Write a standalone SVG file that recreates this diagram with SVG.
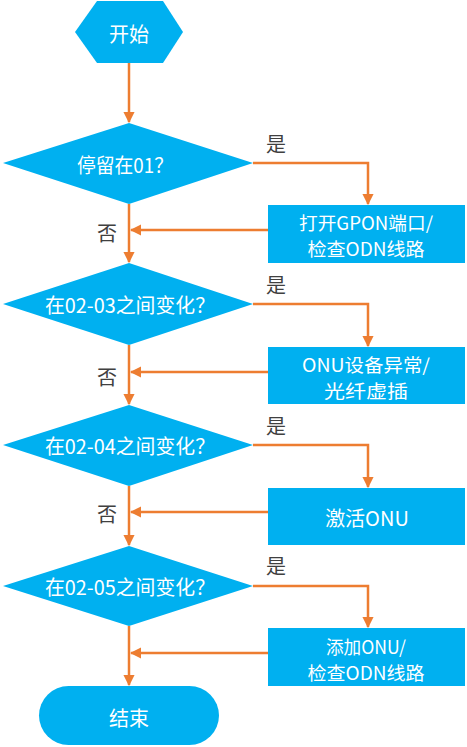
<svg xmlns="http://www.w3.org/2000/svg" width="467" height="747" viewBox="0 0 467 747">
<defs>
<style>
.n{fill:#00B0F0;}
.t{fill:#fff;font-family:"Noto Sans CJK SC","Liberation Sans",sans-serif;font-size:20px;text-anchor:middle;dominant-baseline:central;}
.r{font-size:18px;}
.l{fill:#404040;font-family:"Noto Sans CJK SC","Liberation Sans",sans-serif;font-size:20px;text-anchor:middle;dominant-baseline:central;}
.c{fill:none;stroke:#ED7D31;stroke-width:2.5;marker-end:url(#a);}
</style>
<marker id="a" viewBox="0 0 10 10" refX="9" refY="5" markerWidth="4.5" markerHeight="4.5" orient="auto" markerUnits="strokeWidth">
<path d="M0,0 L10,5 L0,10 z" fill="#ED7D31"/>
</marker>
</defs>
<g id="connectors">
<path class="c" d="M129,63 V122"/>
<path class="c" d="M253,163 H368 V204"/>
<path class="c" d="M268,230 H131"/>
<path class="c" d="M129,204 V262"/>
<path class="c" d="M253,304 H368 V346"/>
<path class="c" d="M268,372 H131"/>
<path class="c" d="M129,345 V404"/>
<path class="c" d="M253,445 H368 V487"/>
<path class="c" d="M268,512 H131"/>
<path class="c" d="M129,486 V545"/>
<path class="c" d="M253,586 H368 V627"/>
<path class="c" d="M268,653 H131"/>
<path class="c" d="M129,626 V685"/>
</g>
<g id="labels">
<text class="l" x="276" y="143">是</text>
<text class="l" x="107" y="232">否</text>
<text class="l" x="276" y="284">是</text>
<text class="l" x="107" y="376">否</text>
<text class="l" x="276" y="425">是</text>
<text class="l" x="107" y="513">否</text>
<text class="l" x="276" y="565">是</text>
</g>
<g id="start">
<polygon class="n" points="97,1 163,1 183,32 163,63 97,63 75,32"/>
<text class="t" x="129" y="33">开始</text>
</g>
<g id="d1">
<polygon class="n" points="129,123 253,163 129,204 3,163"/>
<text class="t" x="125" y="164" textLength="96" lengthAdjust="spacingAndGlyphs">停留在01？</text>
</g>
<g id="p1">
<rect class="n" x="268" y="205" width="197" height="58"/>
<text class="t r" x="366" y="222" textLength="134" lengthAdjust="spacingAndGlyphs">打开GPON端口/</text>
<text class="t r" x="366" y="248" textLength="117" lengthAdjust="spacingAndGlyphs">检查ODN线路</text>
</g>
<g id="d2">
<polygon class="n" points="129,263 253,304 129,345 3,304"/>
<text class="t" x="130" y="304" textLength="170" lengthAdjust="spacingAndGlyphs">在02-03之间变化？</text>
</g>
<g id="p2">
<rect class="n" x="268" y="347" width="197" height="57"/>
<text class="t r" x="366" y="364" textLength="128" lengthAdjust="spacingAndGlyphs">ONU设备异常/</text>
<text class="t r" x="366" y="390" textLength="84" lengthAdjust="spacingAndGlyphs">光纤虚插</text>
</g>
<g id="d3">
<polygon class="n" points="129,405 253,445 129,486 3,445"/>
<text class="t" x="130" y="445" textLength="170" lengthAdjust="spacingAndGlyphs">在02-04之间变化？</text>
</g>
<g id="p3">
<rect class="n" x="268" y="488" width="197" height="57"/>
<text class="t" x="367" y="517">激活ONU</text>
</g>
<g id="d4">
<polygon class="n" points="129,546 253,586 129,626 3,586"/>
<text class="t" x="130" y="586" textLength="170" lengthAdjust="spacingAndGlyphs">在02-05之间变化？</text>
</g>
<g id="p4">
<rect class="n" x="268" y="628" width="197" height="58"/>
<text class="t r" x="366" y="646" textLength="80" lengthAdjust="spacingAndGlyphs">添加ONU/</text>
<text class="t r" x="366" y="672" textLength="117" lengthAdjust="spacingAndGlyphs">检查ODN线路</text>
</g>
<g id="end">
<rect class="n" x="39" y="686" width="180" height="59" rx="29.5"/>
<text class="t" x="129" y="717">结束</text>
</g>
</svg>
